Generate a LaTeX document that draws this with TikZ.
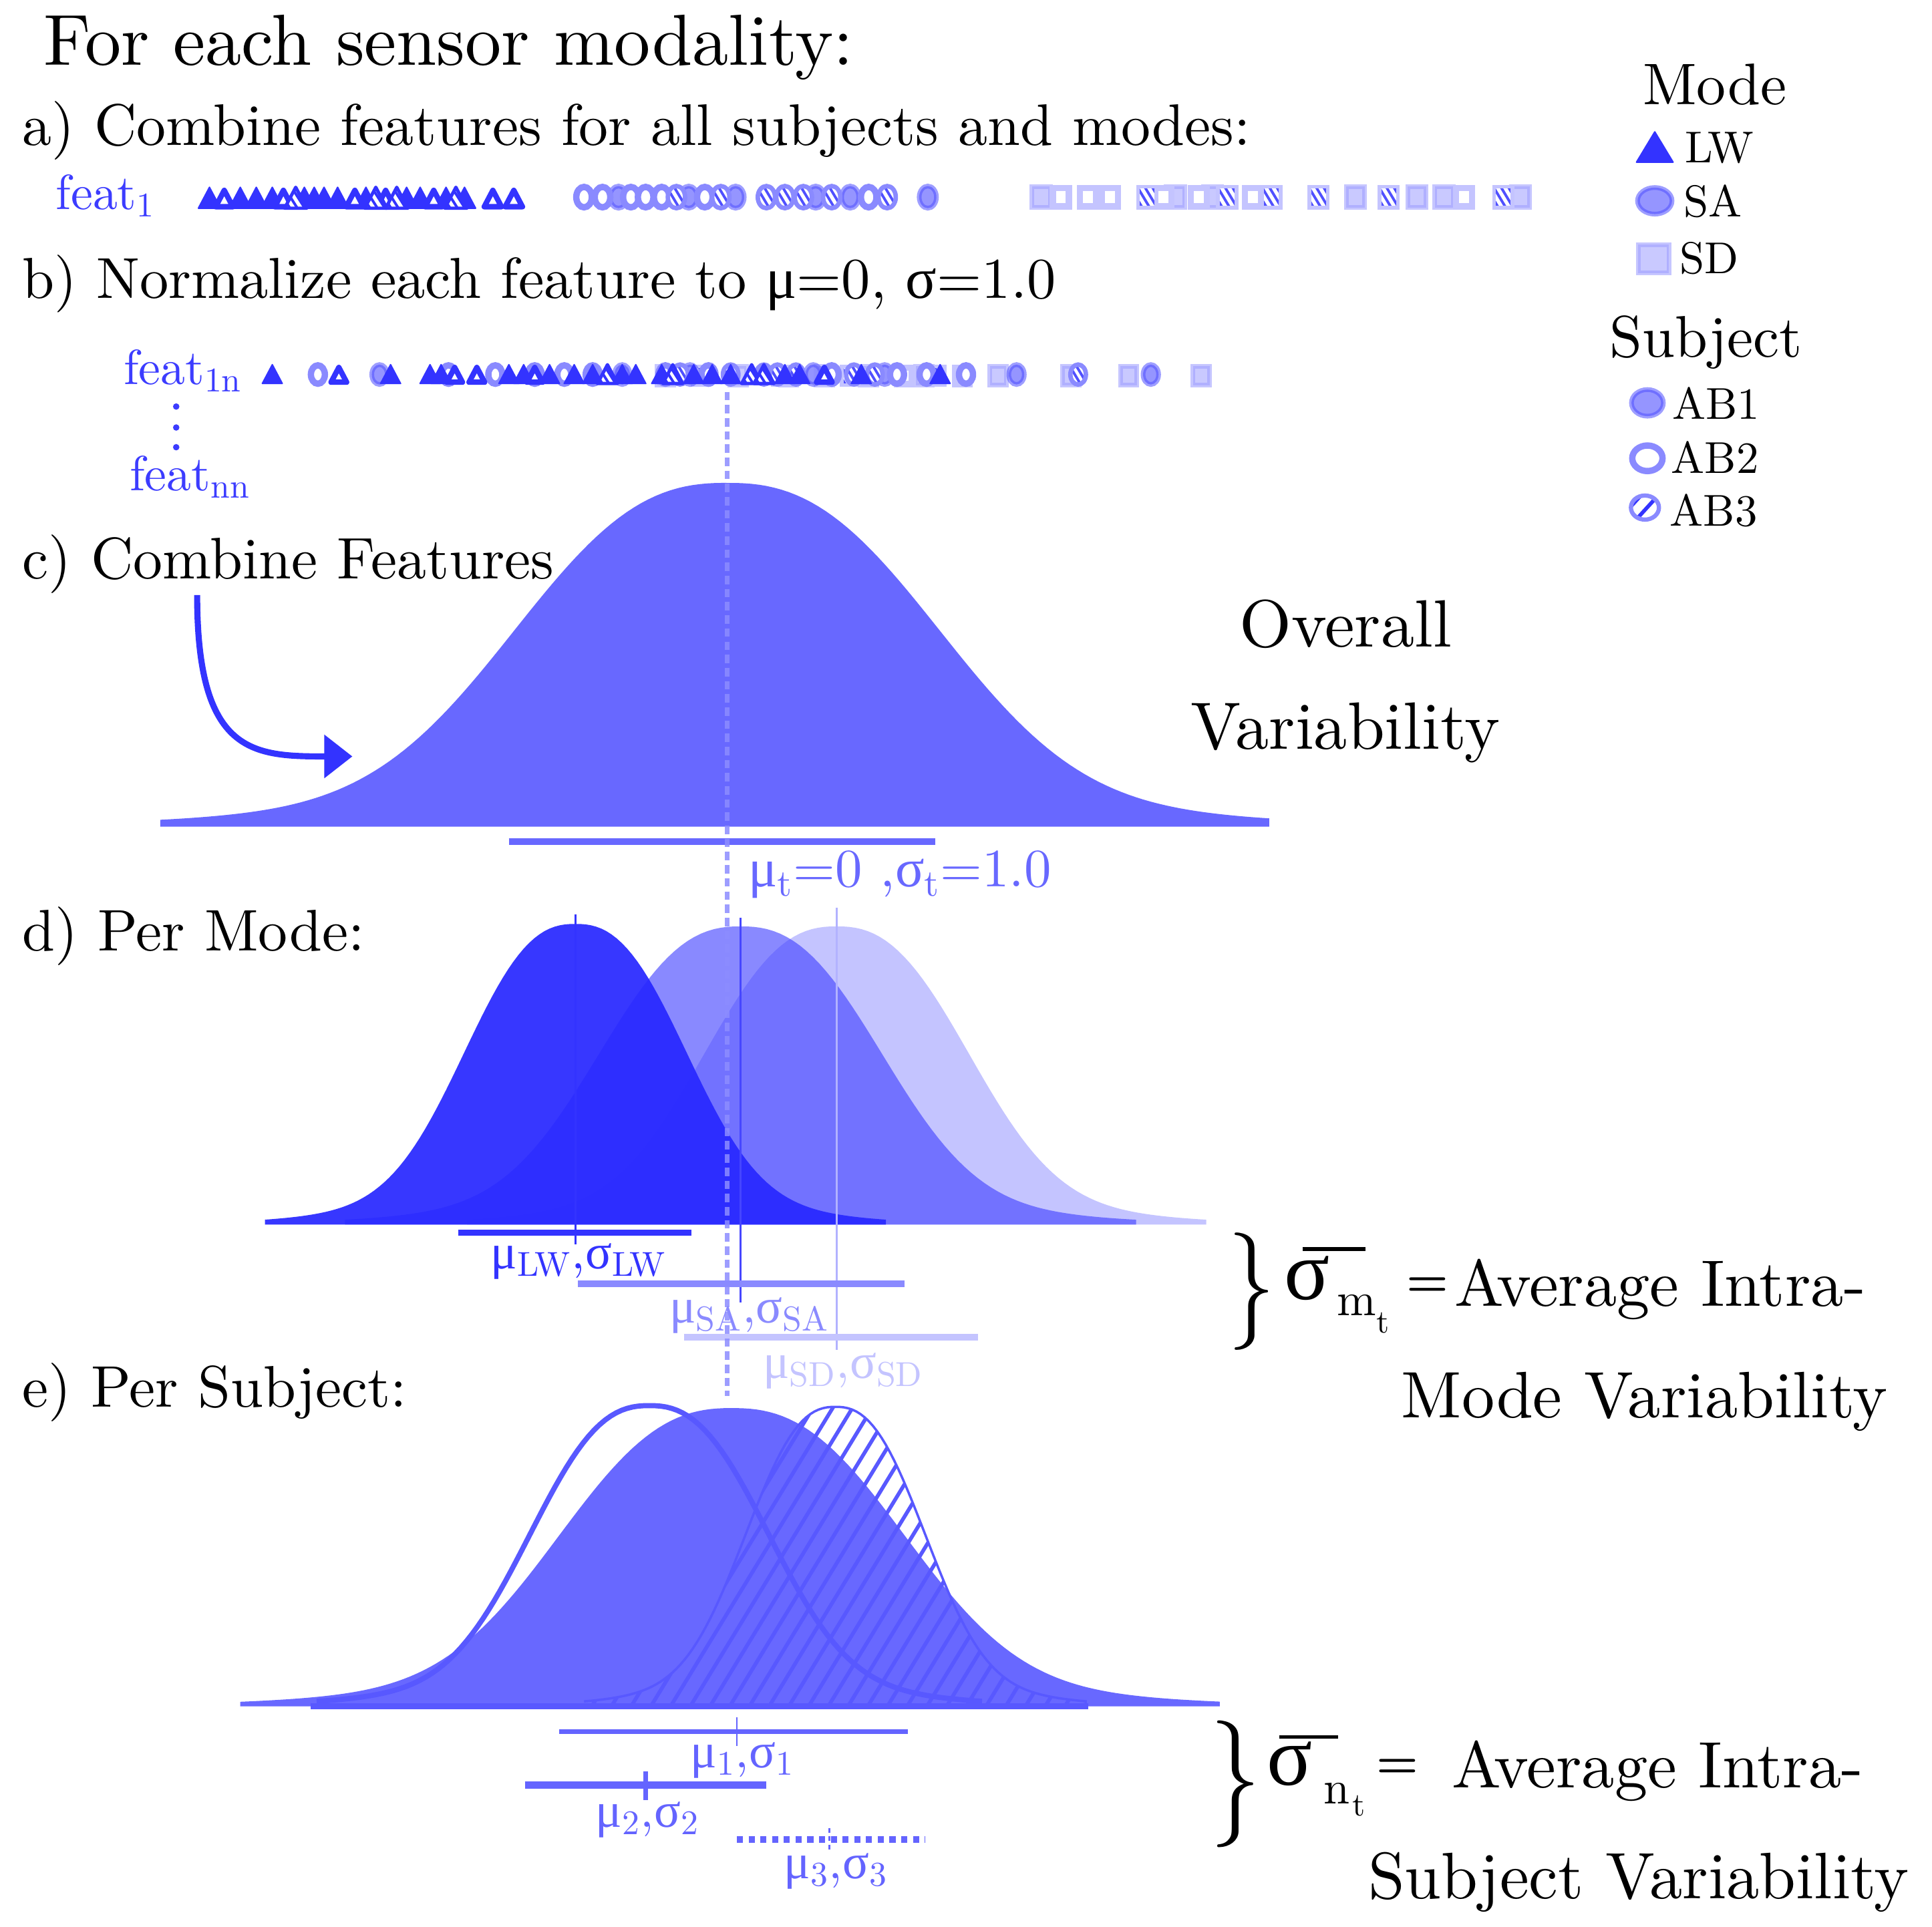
\documentclass[tikz,border=0pt]{standalone}
\usepackage{fontspec}
\setmainfont{lmroman10-regular}[Extension=.otf, BoldFont=lmroman10-bold, ItalicFont=lmroman10-italic, BoldItalicFont=lmroman10-bolditalic]
\newfontfamily\grk{Liberation Serif}
\usetikzlibrary{arrows.meta}
\definecolor{lwc}{RGB}{51,51,255}
\definecolor{lwd}{RGB}{40,40,255}
\definecolor{sac}{RGB}{138,138,255}
\definecolor{sae}{RGB}{80,80,255}
\definecolor{sam}{RGB}{63,63,255}
\definecolor{sdc}{RGB}{196,196,255}
\definecolor{sde}{RGB}{160,160,255}
\definecolor{ovc}{RGB}{104,104,255}
\definecolor{sbc}{RGB}{88,88,255}
\definecolor{lbc}{RGB}{100,100,255}
\definecolor{featc}{RGB}{60,60,255}
\definecolor{dashc}{RGB}{140,140,255}
\definecolor{salc}{RGB}{70,70,255}
\definecolor{sdlc}{RGB}{178,178,255}
\newcommand{\fsz}[1]{\fontsize{#1}{#1}\selectfont}
\tikzset{
  lwA/.pic={\filldraw[lwc, line width=0.6pt, line join=round] (-9,7) -- (9,7) -- (0,-10) -- cycle;},
  lwB/.pic={\draw[lwc, line width=2.3pt, fill=white, line join=round] (-7,5.8) -- (7,5.8) -- (0,-7.5) -- cycle;},
  lwC/.pic={\begin{scope}\clip (-9,7) -- (9,7) -- (0,-10) -- cycle; \fill[white] (-10,-11) rectangle (10,8);
     \foreach \k in {-16,-10,...,16} \draw[lwc, line width=1.1pt] (\k-6,-11) -- (\k+6,8);\end{scope}
     \draw[lwc, line width=1.4pt, line join=round] (-9,7) -- (9,7) -- (0,-10) -- cycle;},
  saA/.pic={\draw[sae, draw opacity=0.55, line width=2pt, fill=sac, fill opacity=0.9] (0,0) ellipse [x radius=7, y radius=9];},
  saB/.pic={\draw[sac, line width=2.7pt, fill=white] (0,0) ellipse [x radius=6.3, y radius=8.3];},
  saC/.pic={\begin{scope}\clip (0,0) ellipse [x radius=7, y radius=9]; \fill[white] (-8,-10) rectangle (8,10);
     \foreach \k in {-15,-9,...,15} \draw[sae, line width=1.1pt] (\k-6,-10) -- (\k+6,10);\end{scope}
     \draw[sac, line width=1.9pt] (0,0) ellipse [x radius=7, y radius=9];},
  saL/.pic={\begin{scope}\clip (0,0) ellipse [x radius=6.5, y radius=8.5]; \fill[white] (-8,-10) rectangle (8,10);
     \foreach \k in {-15,-7,...,15} \draw[lwc, line width=1.6pt] (\k-6,10) -- (\k+6,-10);\end{scope}
     \draw[sac, line width=1.8pt] (0,0) ellipse [x radius=6.5, y radius=8.5];},
  sdA/.pic={\draw[sde, draw opacity=0.6, line width=2pt, fill=sdc, fill opacity=0.9] (-7.5,-8.5) rectangle (7.5,8.5);},
  sdB/.pic={\draw[sdc, line width=2.6pt, fill=white] (-6.5,-7.5) rectangle (6.5,7.5);},
  sdC/.pic={\begin{scope}\clip (-7.5,-8.5) rectangle (7.5,8.5); \fill[white] (-8,-9) rectangle (8,9);
     \foreach \k in {-15,-9,...,15} \draw[sae, line width=1.1pt] (\k-6,-10) -- (\k+6,10);\end{scope}
     \draw[sdc, line width=1.6pt] (-7.5,-8.5) rectangle (7.5,8.5);},
}
\begin{document}
\begin{tikzpicture}[x=0.184439mm, y=-0.184439mm,
  declare function={bl(\u,\v,\w)=0.87*exp(-(abs(\u-\v)/\w)*(abs(\u-\v)/\w)*sqrt(abs(\u-\v)/\w))+0.13*exp(-0.5*((\u-\v)/(1.12*\w))*((\u-\v)/(1.12*\w)));},
  txt/.style={inner sep=0pt, anchor=base west},
  ctxt/.style={inner sep=0pt, anchor=base}]
\fill[white] (0,0) rectangle (1568,1563.7);
\useasboundingbox (0,0) rectangle (1568,1563.7);

% ---------- headings ----------
\node[txt] (title) at (35,53) {\fsz{30.8}For each sensor modality:};
\node[txt] (ha) at (18,118) {\fsz{25}a) Combine features for all subjects and modes:};
\node[txt] (hb) at (18,242) {\fsz{24.6}b) Normalize each feature to {\grk μ}=0, {\grk σ}=1.0};
\node[txt] (hc) at (18,470) {\fsz{25}c) Combine Features};
\node[txt] (hd) at (18,772) {\fsz{25}d) Per Mode:};
\node[txt] (he) at (18,1142) {\fsz{25}e) Per Subject:};

% ---------- feature labels ----------
\node[txt, text=featc] (f1) at (45,170) {\fsz{21}feat\textsubscript{1}};
\node[txt, text=featc] (f1n) at (100,312) {\fsz{21}feat\textsubscript{1n}};
\node[txt, text=featc] (fnn) at (105,398) {\fsz{21}feat\textsubscript{nn}};
\foreach \yy in {330,347,363} \fill[featc] (143,\yy) circle [radius=2.6];

% ---------- row a markers ----------
\foreach \x in {845,954,984,1100,1150,1172,1234} \pic at (\x,160) {sdA};
\foreach \x in {861,883,901,944,973,1017,1188} \pic at (\x,160) {sdB};
\foreach \x in {931,996,1032,1070,1127,1220} \pic at (\x,160) {sdC};
\foreach \x in {502,559,597,662,690,753} \pic at (\x,160) {saA};
\foreach \x in {474,489,512,524,537,572,705} \pic at (\x,160) {saB};
\foreach \x in {549,585,622,637,652,675,720} \pic at (\x,160) {saC};
\foreach \x in {170,195,208,221,247,255,263,274,297,330,341,362,377} \pic at (\x,162) {lwA};
\foreach \x in {182,230,288,313,352,400,417} \pic at (\x,162) {lwB};
\foreach \x in {240,305,322,370} \pic at (\x,162) {lwC};

% ---------- row b markers ----------
\foreach \x in {540,599,669,705,750,810,869,916,975} \pic[scale=0.9] at (\x,305) {sdA};
\foreach \x in {640,734,781} \pic[scale=0.9] at (\x,305) {sdB};
\foreach \x in {569,634,690,760} \pic[scale=0.9] at (\x,305) {sdC};
\foreach \x in {308,505,560,660,718,825,934} \pic[scale=0.9] at (\x,304) {saA};
\foreach \x in {258,364,402,434,458,481,540,575,675,728,752,784} \pic[scale=0.9] at (\x,304) {saB};
\foreach \x in {552,593,620,631,646,693,710,875} \pic[scale=0.9] at (\x,304) {saC};
\foreach \x in {221,317,349,358,413,425,446,466,481,505,516,537,563,578,593,637,649,699,763} \pic[scale=0.9] at (\x,305) {lwA};
\foreach \x in {275,369,387,434,669} \pic[scale=0.9] at (\x,305) {lwB};
\foreach \x in {493,546,610,620} \pic[scale=0.9] at (\x,305) {lwC};

% ---------- legend ----------
\node[txt] (lmode) at (1333,85) {\fsz{25}Mode};
\pic[xscale=1.65, yscale=1.45] at (1343,121.5) {lwA};
\node[txt] (llw) at (1367,132) {\fsz{19}LW};
\pic[xscale=2, yscale=1.2] at (1343,163) {saA};
\node[txt] (lsa) at (1366,176) {\fsz{19}SA};
\pic[xscale=1.65, yscale=1.35] at (1342,210) {sdA};
\node[txt] (lsd) at (1363,222) {\fsz{19}SD};
\node[txt] (lsub) at (1306,290) {\fsz{25}Subject};
\pic[xscale=1.85, yscale=1.2] at (1337,327) {saA};
\node[txt] (lab1) at (1357,340) {\fsz{19}AB1};
\pic[xscale=1.95, yscale=1.25] at (1337,372) {saB};
\node[txt] (lab2) at (1356,384) {\fsz{19}AB2};
\pic[xscale=1.75, yscale=1.15] at (1335,412) {saL};
\node[txt] (lab3) at (1355,427) {\fsz{19}AB3};

% ---------- c) overall ----------
\fill[ovc] (130,671) -- plot[domain=130:1030, samples=151] (\x,{671-279*bl(\x,590,210)}) -- (1030,671) -- cycle;
\draw[ovc, line width=2.8pt] (413,683) -- (759,683);
\node[txt, text=ovc] (mut) at (607,720) {\fsz{23}{\grk μ}\textsubscript{t}=0 ,{\grk σ}\textsubscript{t}=1.0};
\node[ctxt] (ov1) at (1092,525) {\fsz{28.5}Overall};
\node[ctxt] (ov2) at (1092,608) {\fsz{28.5}Variability};
\coordinate (arrS) at (160,483);
\coordinate (arrE) at (286,614);
\draw[lwc, line width=2.6pt, -{Triangle[length=12pt, width=18pt]}] (arrS) .. controls (160,612) and (205,614) .. (arrE);

% ---------- d) per mode ----------
\fill[sdc] (379,994) -- plot[domain=379:979, samples=121] (\x,{994-242*bl(\x,679,131)}) -- (979,994) -- cycle;
\fill[sam, fill opacity=0.61] (280,994) -- plot[domain=280:922, samples=121] (\x,{994-242*bl(\x,601,140)}) -- (922,994) -- cycle;
\fill[lwd, fill opacity=0.93] (215,994) -- plot[domain=215:719, samples=121] (\x,{994-244*bl(\x,467,110)}) -- (719,994) -- cycle;
\draw[lwc, line width=0.9pt] (467,742) -- (467,1010);
\draw[salc, line width=0.9pt] (601,745) -- (601,1057);
\draw[sdlc, line width=0.9pt] (679,737) -- (679,1096);
\draw[lwc, line width=2.8pt] (372,1000.6) -- (561,1000.6);
\draw[sac, line width=2.8pt] (469,1042) -- (734,1042);
\draw[sdc, line width=2.8pt] (555,1085.5) -- (794,1085.5);
\node[txt, text=lwc] (mlw) at (398,1030) {\fsz{21}{\grk μ}\textsubscript{LW},{\grk σ}\textsubscript{LW}};
\node[txt, text=sac] (msa) at (543,1074) {\fsz{21}{\grk μ}\textsubscript{SA},{\grk σ}\textsubscript{SA}};
\node[txt, text=sdc] (msd) at (619,1119) {\fsz{21}{\grk μ}\textsubscript{SD},{\grk σ}\textsubscript{SD}};

% dashed mean line
\coordinate (dtop) at (590,318);
\coordinate (dbot) at (590,1133);
\draw[dashc, draw opacity=0.85, line width=2pt, dash pattern=on 3.6pt off 2pt] (dtop) -- (dbot);

% brace + text (mode)
\node[ctxt] (br1) at (1016,1072) {\scalebox{0.8}[1]{\fsz{50}\}}};
\node[txt] (sg1) at (1042,1055) {\fsz{36}\grk σ};
\draw[black, line width=1.6pt] (1057,1014) -- (1108,1014);
\node[txt] (sg1m) at (1085,1068) {\fsz{20}m};
\node[txt] (sg1t) at (1117,1082) {\fsz{14}t};
\node[txt] (eq1) at (1141,1052) {\fsz{20}\textbf{=}};
\node[txt] (av1) at (1180,1060) {\fsz{28}Average Intra-};
\node[txt] (mv1) at (1137,1151) {\fsz{28}Mode Variability};

% ---------- e) per subject ----------
\fill[white] plot[domain=257:797, samples=121] (\x,{1385-244*bl(\x,527,118)});
\fill[ovc] (195,1385) -- plot[domain=195:990, samples=151] (\x,{1385-242*bl(\x,594,171)}) -- (990,1385) -- cycle;
\begin{scope}
\clip (474,1385) -- plot[domain=474:882, samples=121] (\x,{1385-243*bl(\x,678,89)}) -- (882,1385) -- cycle;
\foreach \k in {300,316,...,900} \draw[sbc, line width=1.6pt] (\k,1392) -- (\k+156,1136);
\end{scope}
\draw[sbc, line width=1pt] plot[domain=474:882, samples=121] (\x,{1385-243*bl(\x,678,89)});
\draw[sbc, line width=2.2pt] plot[domain=257:797, samples=121] (\x,{1385-244*bl(\x,527,118)});
\draw[sbc, line width=2.6pt] (252,1385) -- (883,1385);

\draw[lbc, line width=1.9pt] (454,1405.5) -- (737,1405.5);
\draw[lbc, line width=0.8pt] (598,1394) -- (598,1417);
\draw[lbc, line width=3.3pt] (426,1449) -- (622,1449);
\draw[lbc, line width=2pt] (524,1438) -- (524,1461);
\draw[lbc, line width=2.8pt, dash pattern=on 2.6pt off 2.4pt] (598,1493) -- (751,1493);
\draw[lbc, line width=0.8pt, dash pattern=on 2pt off 1.5pt] (673,1484) -- (673,1502);
\node[txt, text=lbc] (s1) at (560,1435) {\fsz{21}{\grk μ}\textsubscript{1},{\grk σ}\textsubscript{1}};
\node[txt, text=lbc] (s2) at (483,1483) {\fsz{21}{\grk μ}\textsubscript{2},{\grk σ}\textsubscript{2}};
\node[txt, text=lbc] (s3) at (636,1525) {\fsz{21}{\grk μ}\textsubscript{3},{\grk σ}\textsubscript{3}};

% brace + text (subject)
\node[ctxt] (br2) at (1003,1474) {\scalebox{0.8}[1]{\fsz{54}\}}};
\node[txt] (sg2) at (1028,1449) {\fsz{36}\grk σ};
\draw[black, line width=1.6pt] (1038,1410) -- (1086,1410);
\node[txt] (sg2n) at (1074,1464) {\fsz{20}n};
\node[txt] (sg2t) at (1097,1474) {\fsz{14}t};
\node[txt] (eq2) at (1117,1443) {\fsz{20}\textbf{=}};
\node[txt] (av2) at (1178,1451) {\fsz{28}Average Intra-};
\node[txt] (mv2) at (1110,1541) {\fsz{28}Subject Variability};
\end{tikzpicture}
\end{document}
